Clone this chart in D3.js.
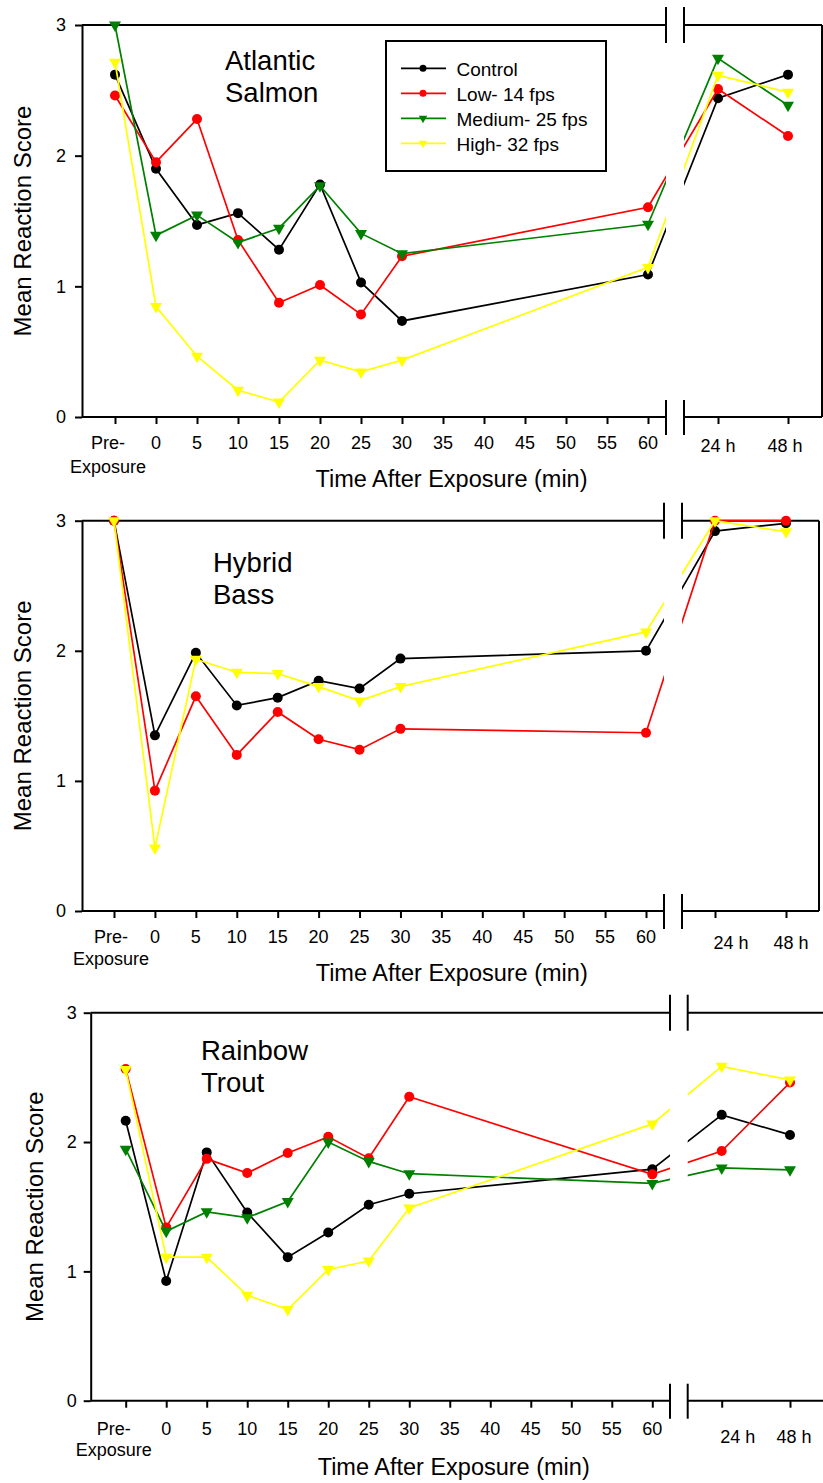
<!DOCTYPE html>
<html>
<head>
<meta charset="utf-8">
<style>
  body { margin: 0; background: #fff; }
  svg text { font-family: "Liberation Sans", Arial, sans-serif; fill: #000; }
</style>
</head>
<body>
<svg id="chart" width="823" height="1483"></svg>
<script src="https://d3js.org/d3.v7.min.js"></script>
<script>

// ---- data ----
var groups = ["Control", "Low- 14 fps", "Medium- 25 fps", "High- 32 fps"];
var minutes = [-5, 0, 5, 10, 15, 20, 25, 30, 60];   // -5 stands for Pre-Exposure
var hours = [24, 48];
var minuteTicks = [-5, 0, 5, 10, 15, 20, 25, 30, 35, 40, 45, 50, 55, 60];
var minuteTickLabels = ["Pre-|Exposure", "0", "5", "10", "15", "20", "25", "30", "35", "40", "45", "50", "55", "60"];
var hourTickLabels = ["24 h", "48 h"];
var yTicks = [0, 1, 2, 3];

// each array: the 9 minute points, then 24 h and 48 h
var salmonControl = [2.62, 1.90, 1.47, 1.56, 1.28, 1.78, 1.03, 0.735, 1.09, 2.44, 2.62];
var salmonLow     = [2.46, 1.95, 2.28, 1.355, 0.875, 1.01, 0.785, 1.23, 1.605, 2.51, 2.15];
var salmonMedium  = [3.0, 1.39, 1.545, 1.335, 1.445, 1.77, 1.405, 1.25, 1.475, 2.745, 2.385];
var salmonHigh    = [2.715, 0.845, 0.465, 0.205, 0.115, 0.435, 0.345, 0.435, 1.145, 2.615, 2.485];

var bassControl = [3.0, 1.35, 1.985, 1.58, 1.64, 1.77, 1.71, 1.94, 2.0, 2.92, 2.98];
var bassLow     = [3.0, 0.925, 1.65, 1.2, 1.53, 1.32, 1.24, 1.40, 1.37, 3.0, 3.0];
var bassMedium  = null;   // not plotted for this species
var bassHigh    = [3.0, 0.485, 1.935, 1.835, 1.825, 1.725, 1.615, 1.725, 2.145, 3.0, 2.915];

var troutControl = [2.165, 0.925, 1.92, 1.455, 1.11, 1.30, 1.515, 1.60, 1.79, 2.21, 2.055];
var troutLow     = [2.565, 1.34, 1.87, 1.76, 1.915, 2.04, 1.875, 2.35, 1.75, 1.93, 2.46];
var troutMedium  = [1.945, 1.31, 1.46, 1.415, 1.54, 2.0, 1.85, 1.755, 1.68, 1.8, 1.785];
var troutHigh    = [2.56, 1.11, 1.11, 0.815, 0.705, 1.015, 1.08, 1.49, 2.14, 2.585, 2.48];

// ---- styling / layout ----
var colors = ["#000000", "#ff0000", "#008000", "#ffff00"];
var shapes = ["circle", "circle", "tri", "tri"];

var panels = [
  { title: ["Atlantic", "Salmon"], series: [salmonControl, salmonLow, salmonMedium, salmonHigh],
    top: 25, bottom: 417, left: 82, xPre: 115, x60: 648, brkL: 666, brkR: 684, x24: 718, x48: 788, right: 822,
    titleX: 225, titleY: 70, yLabelX: 31, yPad: 9, preDx: -7, hourDx: [0, -3],
    tickDy: 31.5, expDy: 55.7, hourDy: 35, xTitleX: 451.5, xTitleY: 487, legend: true },
  { title: ["Hybrid", "Bass"], series: [bassControl, bassLow, bassMedium, bassHigh],
    top: 520.7, bottom: 911, left: 82, xPre: 114, x60: 646, brkL: 664, brkR: 682, x24: 715, x48: 786, right: 819,
    titleX: 213, titleY: 572.3, yLabelX: 31, yPad: 9, preDx: -3, hourDx: [16, 5],
    tickDy: 32.3, expDy: 54, hourDy: 38, xTitleX: 451.7, xTitleY: 981 },
  { title: ["Rainbow", "Trout"], series: [troutControl, troutLow, troutMedium, troutHigh],
    top: 1012.7, bottom: 1400.7, left: 90.7, xPre: 125.7, x60: 652.3, brkL: 670, brkR: 687.7, x24: 721.7, x48: 790, right: 830,
    titleX: 201, titleY: 1060, yLabelX: 43, yPad: 7, preDx: -12, hourDx: [16, 4],
    tickDy: 34.6, expDy: 55, hourDy: 42.6, xTitleX: 453.7, xTitleY: 1474.5 }
];

var svg = d3.select("#chart");

function marker(g, shape, color, size) {
  if (shape == "circle") {
    g.append("circle").attr("r", 5 * size).attr("fill", color);
  } else {
    // point-down triangle, data point at its centroid
    var w = 6 * size, t = 3.5 * size, b = 7 * size;
    g.append("path").attr("d", "M" + (-w) + "," + (-t) + "L" + w + "," + (-t) + "L0," + b + "Z")
      .attr("fill", color);
  }
}

panels.forEach(function(p, pi) {
  var g = svg.append("g");

  var y = d3.scaleLinear().domain([0, 3]).range([p.bottom, p.top]);
  var xm = d3.scaleLinear().domain([-5, 60]).range([p.xPre, p.x60]);
  var xh = d3.scaleLinear().domain([24, 48]).range([p.x24, p.x48]);

  // clip for lines: hide the part crossing the axis break
  var clipId = "brk" + pi;
  var cp = svg.append("clipPath").attr("id", clipId);
  cp.append("rect").attr("x", 0).attr("y", 0).attr("width", p.brkL).attr("height", 1483);
  cp.append("rect").attr("x", p.brkR).attr("y", 0).attr("width", 900).attr("height", 1483);

  // y axis
  var yAxis = g.append("g").attr("transform", "translate(" + p.left + ",0)")
    .call(d3.axisLeft(y).tickValues(yTicks).tickFormat(d3.format("d"))
      .tickSizeInner(7).tickSizeOuter(0).tickPadding(p.yPad));
  yAxis.selectAll("path, line").attr("stroke", "#000").attr("stroke-width", 2);
  yAxis.selectAll("text").style("font-size", "18px").attr("font-family", null);

  // frame lines
  var frame = [
    [p.left, p.bottom, p.brkL, p.bottom], [p.brkR, p.bottom, p.right, p.bottom],
    [p.left, p.top, p.brkL, p.top], [p.brkR, p.top, p.right, p.top],
    [p.right, p.top, p.right, p.bottom],
    [p.brkL, p.top - 18, p.brkL, p.top + 18], [p.brkR, p.top - 18, p.brkR, p.top + 18],
    [p.brkL, p.bottom - 17, p.brkL, p.bottom + 18], [p.brkR, p.bottom - 17, p.brkR, p.bottom + 18]
  ];
  g.selectAll("line.frame").data(frame).enter().append("line").attr("class", "frame")
    .attr("x1", function(d) { return d[0]; }).attr("y1", function(d) { return d[1]; })
    .attr("x2", function(d) { return d[2]; }).attr("y2", function(d) { return d[3]; })
    .attr("stroke", "#000").attr("stroke-width", 2);

  // x ticks (minutes)
  var xa = g.append("g").attr("transform", "translate(0," + p.bottom + ")")
    .call(d3.axisBottom(xm).tickValues(minuteTicks).tickFormat("").tickSizeInner(7).tickSizeOuter(0));
  xa.select(".domain").remove();
  xa.selectAll("line").attr("stroke", "#000").attr("stroke-width", 2);

  var xb = g.append("g").attr("transform", "translate(0," + p.bottom + ")")
    .call(d3.axisBottom(xh).tickValues(hours).tickFormat("").tickSizeInner(7).tickSizeOuter(0));
  xb.select(".domain").remove();
  xb.selectAll("line").attr("stroke", "#000").attr("stroke-width", 2);

  // minute tick labels
  minuteTicks.forEach(function(t, i) {
    var parts = minuteTickLabels[i].split("|");
    var dx = parts.length > 1 ? p.preDx : 0;
    parts.forEach(function(s, j) {
      g.append("text").attr("x", xm(t) + dx).attr("y", p.bottom + (j == 0 ? p.tickDy : p.expDy))
        .attr("text-anchor", "middle").style("font-size", "18px").text(s);
    });
  });
  hours.forEach(function(h, i) {
    g.append("text").attr("x", xh(h) + p.hourDx[i]).attr("y", p.bottom + p.hourDy)
      .attr("text-anchor", "middle").style("font-size", "18px").text(hourTickLabels[i]);
  });

  // axis titles
  g.append("text").attr("x", p.xTitleX).attr("y", p.xTitleY).attr("text-anchor", "middle")
    .style("font-size", "23.5px").text("Time After Exposure (min)");
  g.append("text").attr("transform", "translate(" + p.yLabelX + "," + ((p.top + p.bottom) / 2) + ") rotate(-90)")
    .attr("text-anchor", "middle").style("font-size", "24px").text("Mean Reaction Score");

  // species label
  var tt = g.append("text").attr("x", p.titleX).attr("y", p.titleY).style("font-size", "27.5px");
  tt.append("tspan").attr("x", p.titleX).text(p.title[0]);
  tt.append("tspan").attr("x", p.titleX).attr("dy", 31.7).text(p.title[1]);

  // series
  p.series.forEach(function(vals, si) {
    if (!vals) return;
    var pts = vals.map(function(v, k) {
      var px = k < minutes.length ? xm(minutes[k]) : xh(hours[k - minutes.length]);
      return [px, y(v)];
    });
    g.append("path").attr("d", d3.line()(pts)).attr("fill", "none")
      .attr("stroke", colors[si]).attr("stroke-width", 1.7)
      .attr("clip-path", "url(#" + clipId + ")");
    pts.forEach(function(pt) {
      var m = g.append("g").attr("transform", "translate(" + pt[0] + "," + pt[1] + ")");
      marker(m, shapes[si], colors[si], 1);
    });
  });

  // legend
  if (p.legend) {
    var lg = g.append("g");
    lg.append("rect").attr("x", 386).attr("y", 41).attr("width", 220).attr("height", 130)
      .attr("fill", "#fff").attr("stroke", "#000").attr("stroke-width", 2);
    groups.forEach(function(name, i) {
      var ry = 68.3 + i * 25;
      lg.append("line").attr("x1", 401).attr("x2", 446).attr("y1", ry).attr("y2", ry)
        .attr("stroke", colors[i]).attr("stroke-width", 1.7);
      var m = lg.append("g").attr("transform", "translate(423," + ry + ")");
      marker(m, shapes[i], colors[i], 0.7);
      lg.append("text").attr("x", 456.5).attr("y", ry + 7.3).style("font-size", "19px").text(name);
    });
  }
});

</script>
</body>
</html>
